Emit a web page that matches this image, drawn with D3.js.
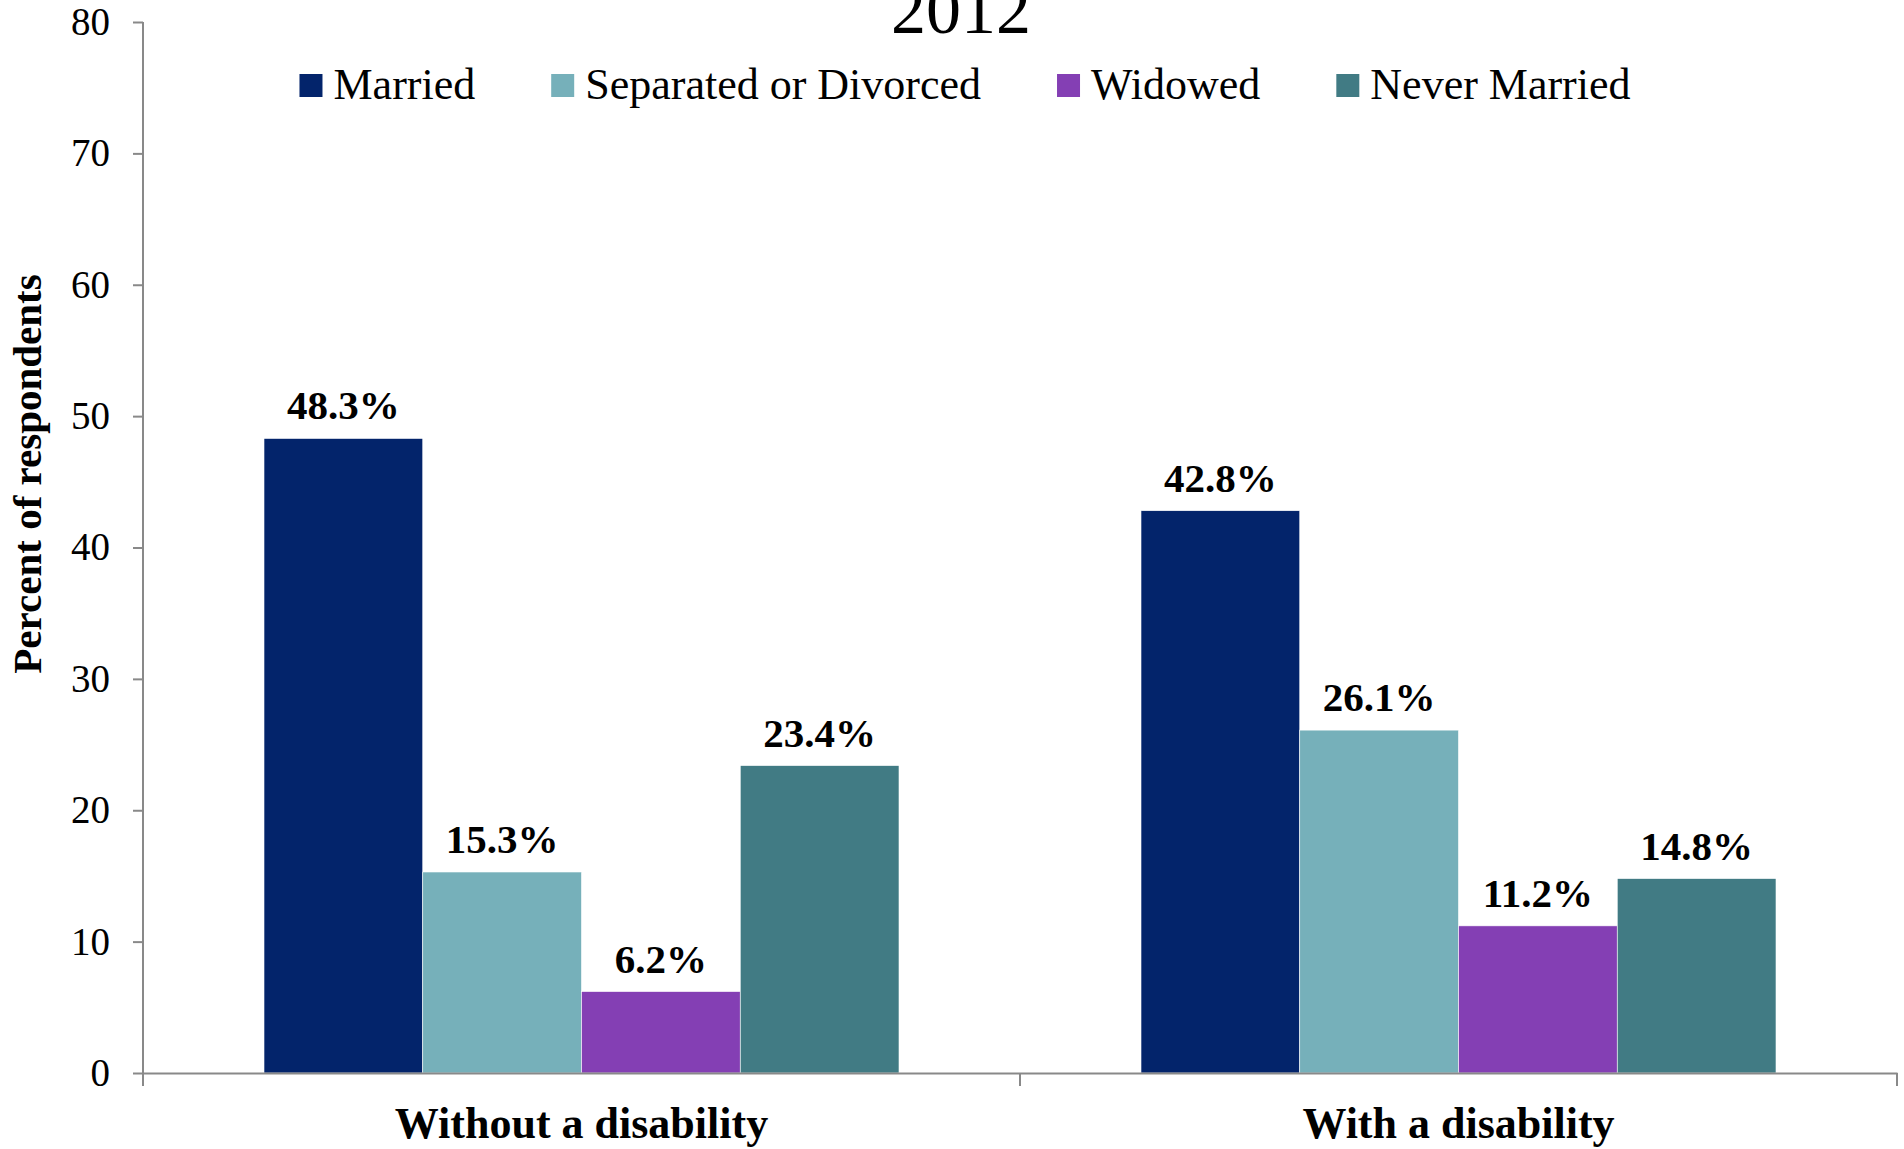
<!DOCTYPE html>
<html>
<head>
<meta charset="utf-8">
<script src="https://cdn.jsdelivr.net/npm/d3@7"></script>
<style>
  body { margin: 0; background: #fff; }
  svg { display: block; font-family: "Liberation Serif", "Times New Roman", serif; }
</style>
</head>
<body>
<svg id="chart" width="1904" height="1149"></svg>
<script>
// values
var groups = ["Without a disability", "With a disability"];
var seriesNames = ["Married", "Separated or Divorced", "Widowed", "Never Married"];
var married = [48.3, 42.8];
var separated = [15.3, 26.1];
var widowed = [6.2, 11.2];
var neverMarried = [23.4, 14.8];
var yTicks = [0, 10, 20, 30, 40, 50, 60, 70, 80];
var colors = ["#03246b", "#76b0ba", "#843fb4", "#417b84"];

var seriesValues = [married, separated, widowed, neverMarried];
var data = groups.map(function(g, i) {
  return {
    group: g,
    values: seriesNames.map(function(s, j) {
      return {key: s, value: seriesValues[j][i]};
    })
  };
});

var svg = d3.select("#chart"),
  margin = {top: 22, right: 7, bottom: 76, left: 143},
  width = +svg.attr("width") - margin.left - margin.right,
  height = +svg.attr("height") - margin.top - margin.bottom,
  g = svg.append("g").attr("transform", "translate(" + margin.left + "," + margin.top + ")");

var x0 = d3.scaleBand()
  .domain(groups)
  .range([0, width]);

var x1 = d3.scaleBand()
  .domain(seriesNames)
  .range([121, x0.bandwidth() - 121]);

var y = d3.scaleLinear()
  .domain([0, 80])
  .range([height, 0]);

var z = d3.scaleOrdinal()
  .domain(seriesNames)
  .range(colors);

// bars
var grp = g.append("g")
  .selectAll("g")
  .data(data)
  .enter().append("g")
  .attr("transform", function(d) { return "translate(" + x0(d.group) + ",0)"; });

grp.selectAll("rect")
  .data(function(d) { return d.values; })
  .enter().append("rect")
  .attr("x", function(d) { return x1(d.key); })
  .attr("y", function(d) { return y(d.value); })
  .attr("width", x1.bandwidth())
  .attr("height", function(d) { return height - y(d.value); })
  .attr("fill", function(d) { return z(d.key); })
  .attr("stroke", "#ffffff")
  .attr("stroke-width", 0.6);

grp.selectAll("text")
  .data(function(d) { return d.values; })
  .enter().append("text")
  .attr("x", function(d) { return x1(d.key) + x1.bandwidth() / 2; })
  .attr("y", function(d) { return y(d.value) - 19; })
  .attr("text-anchor", "middle")
  .attr("font-size", 41)
  .attr("font-weight", "bold")
  .attr("fill", "#000")
  .text(function(d) { return d.value.toFixed(1) + "%"; });

// y axis
var yAxis = g.append("g")
  .call(d3.axisLeft(y).tickValues(yTicks).tickSize(10).tickPadding(23));
yAxis.select(".domain").attr("stroke", "#898989").attr("stroke-width", 2)
  .attr("d", "M0," + y(80) + "V" + (height + 13));
yAxis.selectAll(".tick line").attr("stroke", "#898989").attr("stroke-width", 2);
yAxis.selectAll(".tick text")
  .attr("font-family", "Liberation Serif")
  .attr("font-size", 39)
  .attr("fill", "#000");

// x axis
var xAxis = g.append("g")
  .attr("transform", "translate(0," + height + ")")
  .call(d3.axisBottom(x0).tickSize(0).tickPadding(34));
xAxis.select(".domain").attr("stroke", "#898989").attr("stroke-width", 2);
xAxis.selectAll(".tick text")
  .attr("font-family", "Liberation Serif")
  .attr("font-size", 44)
  .attr("font-weight", "bold")
  .attr("fill", "#000");

// group separators on the x axis
g.append("g")
  .selectAll("line")
  .data([0, x0.bandwidth(), width])
  .enter().append("line")
  .attr("x1", function(d) { return d; })
  .attr("x2", function(d) { return d; })
  .attr("y1", height)
  .attr("y2", height + 13)
  .attr("stroke", "#898989")
  .attr("stroke-width", 2);

// y title
svg.append("text")
  .attr("transform", "translate(41,474) rotate(-90)")
  .attr("text-anchor", "middle")
  .attr("font-size", 41)
  .attr("font-weight", "bold")
  .attr("fill", "#000")
  .text("Percent of respondents");

// title (clipped at top as in the original)
svg.append("text")
  .attr("x", 961)
  .attr("y", 33)
  .attr("text-anchor", "middle")
  .attr("font-size", 70)
  .attr("fill", "#000")
  .text("2012");

// legend
var legend = svg.append("g")
  .attr("font-size", 44);

var items = legend.selectAll("g")
  .data(seriesNames)
  .enter().append("g");

items.append("rect")
  .attr("y", 74)
  .attr("width", 23)
  .attr("height", 23)
  .attr("fill", z);

items.append("text")
  .attr("x", 34)
  .attr("y", 99)
  .attr("fill", "#000")
  .text(function(d) { return d; });

var pos = 0, offsets = [];
items.each(function(d) {
  offsets.push(pos);
  var w = d3.select(this).select("text").node().getComputedTextLength();
  pos += 34 + w + 76;
});
var total = pos - 76;
var start = 965 - total / 2;
items.attr("transform", function(d, i) { return "translate(" + (start + offsets[i]) + ",0)"; });
</script>
</body>
</html>
